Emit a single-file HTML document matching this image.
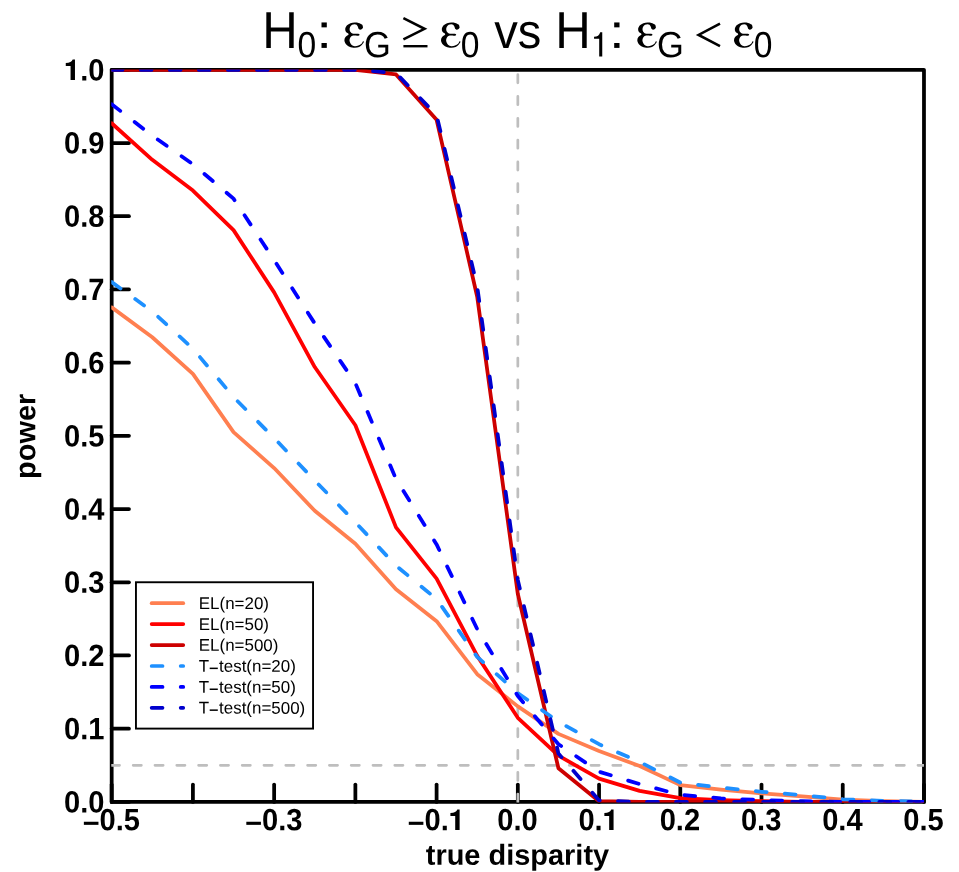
<!DOCTYPE html>
<html><head><meta charset="utf-8"><title>power</title>
<style>html,body{margin:0;padding:0;background:#fff;}svg{display:block;}text{font-family:"Liberation Sans",sans-serif;fill:#000;}</style>
</head><body><div style="will-change:transform;width:959px;height:872px;overflow:hidden">
<svg width="959" height="872" viewBox="0 0 959 872" text-rendering="geometricPrecision">
<rect x="0" y="0" width="959" height="872" fill="#fff"/>
<defs><clipPath id="pc"><rect x="111.28" y="69.50" width="812.70" height="732.90"/></clipPath></defs>
<g id="title" role="img" aria-label="H0: epsilon_G >= epsilon_0 vs H1: epsilon_G &lt; epsilon_0">
<defs><path id="eps" d="M18.41,-20.83 C18.25,-21.35 18.32,-22.24 17.60,-22.85 C16.89,-23.45 15.34,-24.13 14.12,-24.46 C12.90,-24.80 11.61,-24.91 10.27,-24.87 C8.93,-24.82 7.32,-24.68 6.05,-24.21 C4.78,-23.74 3.51,-22.97 2.64,-22.04 C1.77,-21.11 1.04,-19.72 0.84,-18.63 C0.65,-17.54 0.91,-16.45 1.47,-15.51 C2.03,-14.58 4.28,-13.88 4.22,-13.02 C4.16,-12.16 1.80,-11.37 1.10,-10.38 C0.40,-9.39 -0.05,-8.24 0.00,-7.08 C0.05,-5.92 0.55,-4.48 1.39,-3.41 C2.24,-2.34 3.58,-1.31 5.06,-0.66 C6.54,-0.01 8.67,0.43 10.27,0.48 C11.87,0.52 13.45,0.11 14.67,-0.40 C15.89,-0.92 16.77,-1.75 17.60,-2.60 C18.44,-3.46 19.66,-5.54 19.66,-5.54 C19.66,-5.54 18.71,-6.35 18.71,-6.35 C18.71,-6.35 17.87,-4.38 17.09,-3.63 C16.31,-2.88 15.15,-2.25 14.01,-1.83 C12.87,-1.42 11.43,-1.01 10.27,-1.14 C9.11,-1.27 7.86,-1.87 7.04,-2.60 C6.23,-3.34 5.70,-4.67 5.39,-5.54 C5.09,-6.41 5.02,-6.97 5.21,-7.81 C5.40,-8.65 5.92,-9.91 6.53,-10.56 C7.14,-11.22 7.64,-11.57 8.88,-11.74 C10.11,-11.91 12.89,-11.45 13.94,-11.59 C14.98,-11.73 15.15,-12.26 15.15,-12.58 C15.15,-12.90 14.98,-13.36 13.94,-13.53 C12.89,-13.71 10.10,-13.44 8.88,-13.64 C7.65,-13.85 7.21,-14.16 6.60,-14.78 C6.00,-15.40 5.40,-16.40 5.25,-17.35 C5.09,-18.29 5.28,-19.59 5.69,-20.46 C6.10,-21.34 6.94,-22.14 7.70,-22.59 C8.47,-23.04 9.52,-23.20 10.27,-23.18 C11.02,-23.16 11.64,-22.92 12.18,-22.48 C12.71,-22.04 13.17,-21.20 13.50,-20.54 C13.82,-19.88 13.77,-19.00 14.12,-18.52 C14.47,-18.04 15.01,-17.68 15.59,-17.64 C16.17,-17.60 17.10,-17.92 17.60,-18.26 C18.11,-18.61 18.46,-19.30 18.60,-19.73 C18.73,-20.16 18.58,-20.31 18.41,-20.83 Z"/></defs>
<text transform="translate(262.35,47.90) rotate(0.03) scale(0.975,1.03)" font-size="50.4">H</text>
<text transform="translate(297.60,57.20) rotate(0.03) scale(0.96,1.04)" font-size="35">0</text>
<rect x="321.50" y="22.45" width="5.3" height="4.9" fill="#000"/><rect x="321.50" y="43.0" width="5.3" height="4.9" fill="#000"/>
<use href="#eps" x="344.40" y="47.35" fill="#000"/>
<text transform="translate(363.95,57.20) rotate(0.03) scale(0.985,1.04)" font-size="35">G</text>
<path d="M403.4,18.2 L424.5,28.8 L403.4,39.4" fill="none" stroke="#000" stroke-width="2.6" stroke-miterlimit="10"/>
<path d="M403.4,46.2 L427.5,46.2" fill="none" stroke="#000" stroke-width="2.4"/>
<use href="#eps" x="441.00" y="47.35" fill="#000"/>
<text transform="translate(460.80,57.20) rotate(0.03) scale(0.96,1.04)" font-size="35">0</text>
<text transform="translate(494.30,47.90) rotate(0.03) scale(0.965,1.0)" font-size="48.8">vs</text>
<text transform="translate(555.30,47.90) rotate(0.03) scale(0.975,1.03)" font-size="50.4">H</text>
<path d="M602.25,56.60 L599.20,56.60 L599.20,38.80 L594.05,38.80 L594.05,36.85 Q598.95,36.60 600.20,32.15 L602.25,32.15 Z" fill="#000"/>
<rect x="614.20" y="22.45" width="5.3" height="4.9" fill="#000"/><rect x="614.20" y="43.0" width="5.3" height="4.9" fill="#000"/>
<use href="#eps" x="637.30" y="47.35" fill="#000"/>
<text transform="translate(657.05,57.20) rotate(0.03) scale(0.985,1.04)" font-size="35">G</text>
<path d="M720.0,23.7 L698.6,34.9 L720.0,46.1" fill="none" stroke="#000" stroke-width="2.6" stroke-miterlimit="10"/>
<use href="#eps" x="734.00" y="47.35" fill="#000"/>
<text transform="translate(753.80,57.20) rotate(0.03) scale(0.96,1.04)" font-size="35">0</text>
</g>
<rect x="111.68" y="69.80" width="812.30" height="732.10" fill="none" stroke="#000" stroke-width="3.76" stroke-linejoin="round"/>
<g stroke="#000" stroke-width="3.76" stroke-linecap="round">
<line x1="111.68" y1="801.90" x2="111.68" y2="784.60"/>
<line x1="111.68" y1="801.90" x2="128.98" y2="801.90"/>
<line x1="192.91" y1="801.90" x2="192.91" y2="784.60"/>
<line x1="111.68" y1="728.69" x2="128.98" y2="728.69"/>
<line x1="274.14" y1="801.90" x2="274.14" y2="784.60"/>
<line x1="111.68" y1="655.48" x2="128.98" y2="655.48"/>
<line x1="355.37" y1="801.90" x2="355.37" y2="784.60"/>
<line x1="111.68" y1="582.27" x2="128.98" y2="582.27"/>
<line x1="436.60" y1="801.90" x2="436.60" y2="784.60"/>
<line x1="111.68" y1="509.06" x2="128.98" y2="509.06"/>
<line x1="517.83" y1="801.90" x2="517.83" y2="784.60"/>
<line x1="111.68" y1="435.85" x2="128.98" y2="435.85"/>
<line x1="599.06" y1="801.90" x2="599.06" y2="784.60"/>
<line x1="111.68" y1="362.64" x2="128.98" y2="362.64"/>
<line x1="680.29" y1="801.90" x2="680.29" y2="784.60"/>
<line x1="111.68" y1="289.43" x2="128.98" y2="289.43"/>
<line x1="761.52" y1="801.90" x2="761.52" y2="784.60"/>
<line x1="111.68" y1="216.22" x2="128.98" y2="216.22"/>
<line x1="842.75" y1="801.90" x2="842.75" y2="784.60"/>
<line x1="111.68" y1="143.01" x2="128.98" y2="143.01"/>
<line x1="923.98" y1="801.90" x2="923.98" y2="784.60"/>
<line x1="111.68" y1="69.80" x2="128.98" y2="69.80"/>
</g>
<g font-size="29.1" font-weight="bold">
<text transform="translate(104.55,812.50) rotate(0.03) scale(1,1.057)" text-anchor="end">0.0</text>
<text transform="translate(104.55,739.29) rotate(0.03) scale(1,1.057)" text-anchor="end">0.1</text>
<text transform="translate(104.55,666.08) rotate(0.03) scale(1,1.057)" text-anchor="end">0.2</text>
<text transform="translate(104.55,592.87) rotate(0.03) scale(1,1.057)" text-anchor="end">0.3</text>
<text transform="translate(104.55,519.66) rotate(0.03) scale(1,1.057)" text-anchor="end">0.4</text>
<text transform="translate(104.55,446.45) rotate(0.03) scale(1,1.057)" text-anchor="end">0.5</text>
<text transform="translate(104.55,373.24) rotate(0.03) scale(1,1.057)" text-anchor="end">0.6</text>
<text transform="translate(104.55,300.03) rotate(0.03) scale(1,1.057)" text-anchor="end">0.7</text>
<text transform="translate(104.55,226.82) rotate(0.03) scale(1,1.057)" text-anchor="end">0.8</text>
<text transform="translate(104.55,153.61) rotate(0.03) scale(1,1.057)" text-anchor="end">0.9</text>
<text transform="translate(104.55,80.40) rotate(0.03) scale(1,1.057)" text-anchor="end">.0</text>
<path d="M74.97,79.90 L70.57,79.90 L70.57,65.90 L65.77,65.90 L65.77,62.95 Q71.57,62.70 72.67,59.45 L74.97,59.45 Z" fill="#000"/>
<rect x="83.86" y="821.75" width="14.6" height="3.1" fill="#000"/>
<text transform="translate(99.55,830.30) rotate(0.03) scale(1,1.057)">0.5</text>
<rect x="246.32" y="821.75" width="14.6" height="3.1" fill="#000"/>
<text transform="translate(262.01,830.30) rotate(0.03) scale(1,1.057)">0.3</text>
<rect x="408.78" y="821.75" width="14.6" height="3.1" fill="#000"/>
<text transform="translate(424.47,830.30) rotate(0.03) scale(1,1.057)">0.</text>
<path d="M459.61,829.90 L455.21,829.90 L455.21,815.90 L450.41,815.90 L450.41,812.95 Q456.21,812.70 457.31,809.45 L459.61,809.45 Z" fill="#000"/>
<text transform="translate(497.21,830.30) rotate(0.03) scale(1,1.057)">0.0</text>
<text transform="translate(578.44,830.30) rotate(0.03) scale(1,1.057)">0.</text>
<path d="M613.57,829.90 L609.17,829.90 L609.17,815.90 L604.37,815.90 L604.37,812.95 Q610.17,812.70 611.27,809.45 L613.57,809.45 Z" fill="#000"/>
<text transform="translate(659.67,830.30) rotate(0.03) scale(1,1.057)">0.2</text>
<text transform="translate(740.90,830.30) rotate(0.03) scale(1,1.057)">0.3</text>
<text transform="translate(822.13,830.30) rotate(0.03) scale(1,1.057)">0.4</text>
<text transform="translate(903.36,830.30) rotate(0.03) scale(1,1.057)">0.5</text>
<text transform="translate(517.45,864.8) rotate(0.03)" text-anchor="middle" font-size="28.95">true disparity</text>
<text transform="translate(35.3,436.35) rotate(-89.97)" text-anchor="middle" font-size="28.95">power</text>
</g>
<g clip-path="url(#pc)" fill="none" stroke="#BEBEBE" stroke-width="2.72" stroke-linecap="round" stroke-dasharray="8.175 13.625">
<path d="M111.38,765.29 L923.98,765.29"/>
<path d="M517.83,802.25 L517.83,64.80"/>
</g>
<g clip-path="url(#pc)" fill="none" stroke-width="3.76" stroke-linecap="round" stroke-linejoin="round">
<path d="M111.68,307.37 L152.29,337.24 L192.91,373.91 L233.53,432.19 L274.14,468.06 L314.75,510.82 L355.37,543.83 L395.99,589.30 L436.60,621.22 L477.21,674.22 L517.83,706.36 L558.44,733.89 L599.06,751.09 L639.67,766.03 L680.29,785.13 L720.90,789.60 L761.52,793.41 L802.13,796.41 L842.75,799.63 L883.37,801.17 L923.98,801.90" stroke="#FF7F50"/>
<path d="M111.68,123.24 L152.29,159.85 L192.91,190.60 L233.53,230.13 L274.14,292.36 L314.75,367.03 L355.37,425.23 L395.99,527.36 L436.60,578.61 L477.21,655.85 L517.83,717.78 L558.44,755.70 L599.06,778.62 L639.67,790.92 L680.29,798.09 L720.90,800.07 L761.52,801.17 L802.13,801.90 L842.75,801.90 L883.37,801.90 L923.98,801.90" stroke="#FF0000"/>
<path d="M111.68,69.80 L152.29,69.80 L192.91,69.80 L233.53,69.80 L274.14,69.80 L314.75,69.80 L355.37,69.80 L395.99,74.41 L436.60,119.80 L477.21,296.75 L517.83,593.98 L558.44,768.30 L599.06,801.17 L639.67,801.90 L680.29,801.90 L720.90,801.90 L761.52,801.90 L802.13,801.90 L842.75,801.90 L883.37,801.90 L923.98,801.90" stroke="#CD0000"/>
<path d="M111.68,282.11 L152.29,311.39 L192.91,348.73 L233.53,397.05 L274.14,438.05 L314.75,480.51 L355.37,522.24 L395.99,565.65 L436.60,599.11 L477.21,656.94 L517.83,693.04 L558.44,721.74 L599.06,744.21 L639.67,761.93 L680.29,782.57 L720.90,787.62 L761.52,791.80 L802.13,795.09 L842.75,799.26 L883.37,800.80 L923.98,801.53" stroke="#1E90FF" stroke-dasharray="10.89 18.15"/>
<path d="M111.68,104.21 L152.29,135.69 L192.91,164.24 L233.53,198.65 L274.14,260.15 L314.75,323.47 L355.37,383.14 L395.99,479.04 L436.60,544.42 L477.21,629.12 L517.83,696.04 L558.44,744.21 L599.06,771.74 L639.67,784.11 L680.29,794.80 L720.90,798.39 L761.52,800.07 L802.13,801.17 L842.75,801.90 L883.37,801.90 L923.98,801.90" stroke="#0000FF" stroke-dasharray="10.89 18.15"/>
<path d="M111.68,69.80 L152.29,69.80 L192.91,69.80 L233.53,69.80 L274.14,69.80 L314.75,69.80 L355.37,69.80 L395.99,73.09 L436.60,115.19 L477.21,286.50 L517.83,580.07 L558.44,753.58 L599.06,800.44 L639.67,801.90 L680.29,801.90 L720.90,801.90 L761.52,801.90 L802.13,801.90 L842.75,801.90 L883.37,801.90 L923.98,801.90" stroke="#0000CD" stroke-dasharray="10.89 18.15"/>
</g>
<rect x="135.95" y="582.25" width="177.1" height="146.35" fill="#fff" stroke="#000" stroke-width="1.9"/>
<g fill="none" stroke-width="3.70" stroke-linecap="round">
<path d="M151.65,603.20 L183.25,603.20" stroke="#FF7F50"/>
<path d="M151.65,624.10 L183.25,624.10" stroke="#FF0000"/>
<path d="M151.65,645.05 L183.25,645.05" stroke="#CD0000"/>
<path d="M151.65,666.00 L183.25,666.00" stroke="#1E90FF" stroke-dasharray="10.89 18.15"/>
<path d="M151.65,686.90 L183.25,686.90" stroke="#0000FF" stroke-dasharray="10.89 18.15"/>
<path d="M151.65,707.80 L183.25,707.80" stroke="#0000CD" stroke-dasharray="10.89 18.15"/>
</g>
<g font-size="16.95">
<text transform="translate(198.8,609.00) rotate(0.03)">EL(n=20)</text>
<text transform="translate(198.8,629.90) rotate(0.03)">EL(n=50)</text>
<text transform="translate(198.8,650.85) rotate(0.03)">EL(n=500)</text>
<text transform="translate(198.8,671.80) rotate(0.03)">T</text>
<rect x="209.7" y="667.60" width="8.1" height="1.5" fill="#000"/>
<text transform="translate(219.06,671.80) rotate(0.03)">test(n=20)</text>
<text transform="translate(198.8,692.70) rotate(0.03)">T</text>
<rect x="209.7" y="688.50" width="8.1" height="1.5" fill="#000"/>
<text transform="translate(219.06,692.70) rotate(0.03)">test(n=50)</text>
<text transform="translate(198.8,713.60) rotate(0.03)">T</text>
<rect x="209.7" y="709.40" width="8.1" height="1.5" fill="#000"/>
<text transform="translate(219.06,713.60) rotate(0.03)">test(n=500)</text>
</g>
</svg>
</div></body></html>
